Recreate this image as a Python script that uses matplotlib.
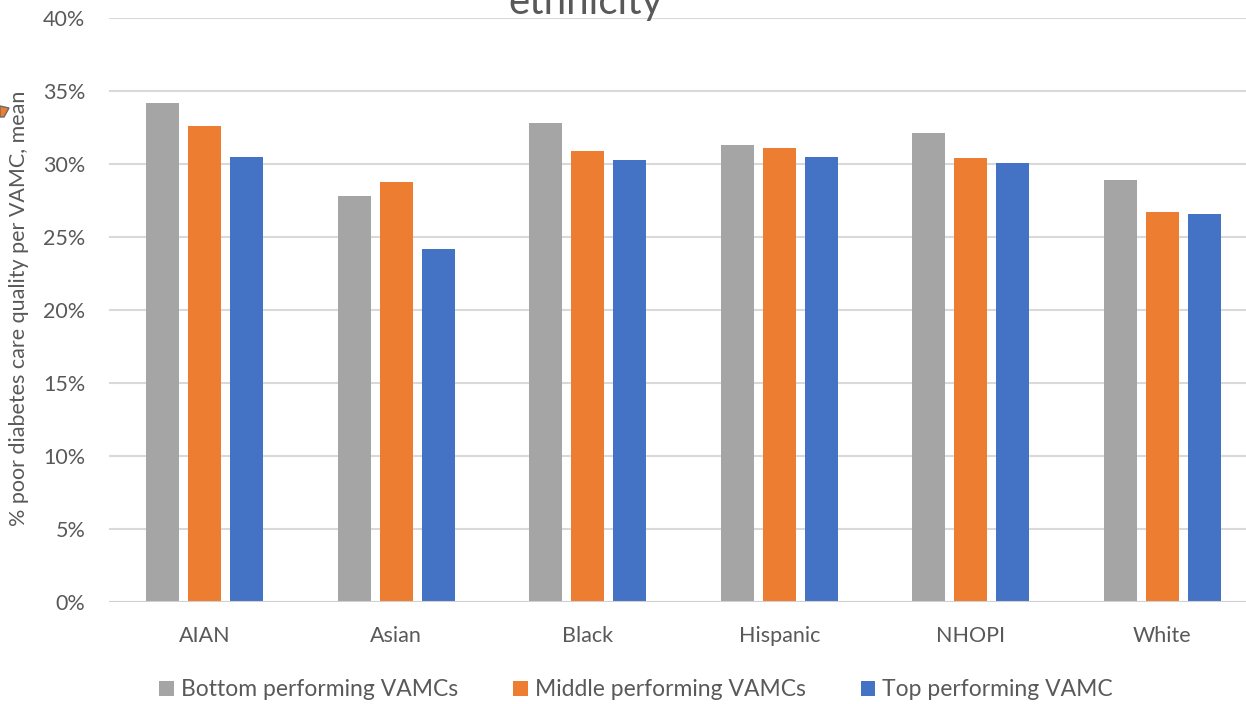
import numpy as np
import matplotlib.pyplot as plt
from matplotlib.patches import Polygon

# data: mean % poor diabetes care quality per VAMC, by race/ethnicity
groups = ["AIAN", "Asian", "Black", "Hispanic", "NHOPI", "White"]
bottom_vamc = [34.2, 27.8, 32.8, 31.3, 32.1, 28.9]
middle_vamc = [32.6, 28.8, 30.9, 31.1, 30.4, 26.7]
top_vamc = [30.5, 24.2, 30.3, 30.5, 30.1, 26.6]
series_names = ["Bottom performing VAMCs", "Middle performing VAMCs", "Top performing VAMC"]
colors = ["#A5A5A5", "#ED7D31", "#4472C4"]
yticks = [0, 5, 10, 15, 20, 25, 30, 35, 40]

plt.rcParams['font.family'] = ['Lato', 'DejaVu Sans']

W, H = 1246, 704
fig = plt.figure(figsize=(W / 100, H / 100), dpi=100)
# plot area runs past the right edge of the figure
left, right = 109, 1258
top, bottom = 18, 602
ax = fig.add_axes([left / W, 1 - bottom / H, (right - left) / W, (bottom - top) / H])

x = np.arange(len(groups))
bw = 0.172
step = 0.219
for i, (vals, name, c) in enumerate(zip([bottom_vamc, middle_vamc, top_vamc], series_names, colors)):
    ax.bar(x + (i - 1) * step, vals, width=bw, color=c, label=name, zorder=3)

ax.set_xlim(-0.5, len(groups) - 0.5)
ax.set_ylim(0, 40)
ax.set_yticks(yticks)
ax.set_yticklabels([f"{t}%" for t in yticks])
ax.set_xticks(x)
ax.set_xticklabels(groups)
ax.tick_params(axis='both', length=0, labelsize=15.5, labelcolor="#595959")
ax.tick_params(axis='x', pad=17)
ax.tick_params(axis='y', pad=17)
ax.grid(axis='y', color="#D9D9D9", linewidth=1.5, zorder=0)
for s in ax.spines.values():
    s.set_visible(False)
ax.axhline(0, color="#D0D0D0", linewidth=1.5, zorder=4)

fig.text(19 / W, 1 - 308 / H, "% poor diabetes care quality per VAMC, mean",
         rotation=90, ha='center', va='center', fontsize=15.5, color="#595959")

# title, mostly outside the top of the figure
fig.text(586 / W, 1 - 14 / H, "ethnicity", ha='center', va='baseline',
         fontsize=29, color="#595959")

# small arrow tip sticking in from the left edge
tip = Polygon([(0, H - 106), (9, H - 108), (4, H - 117), (0, H - 117)],
              closed=True, facecolor="#ED7D31", edgecolor="#6B6B6B", linewidth=1,
              transform=None)
fig.patches.append(tip)

fig.legend(loc='center', bbox_to_anchor=(636 / W, 1 - 690 / H), ncol=3, frameon=False,
           fontsize=16.5, labelcolor="#595959", handlelength=0.65, handleheight=0.65,
           handletextpad=0.3, columnspacing=2.4)

fig.savefig("out.png", dpi=100)
